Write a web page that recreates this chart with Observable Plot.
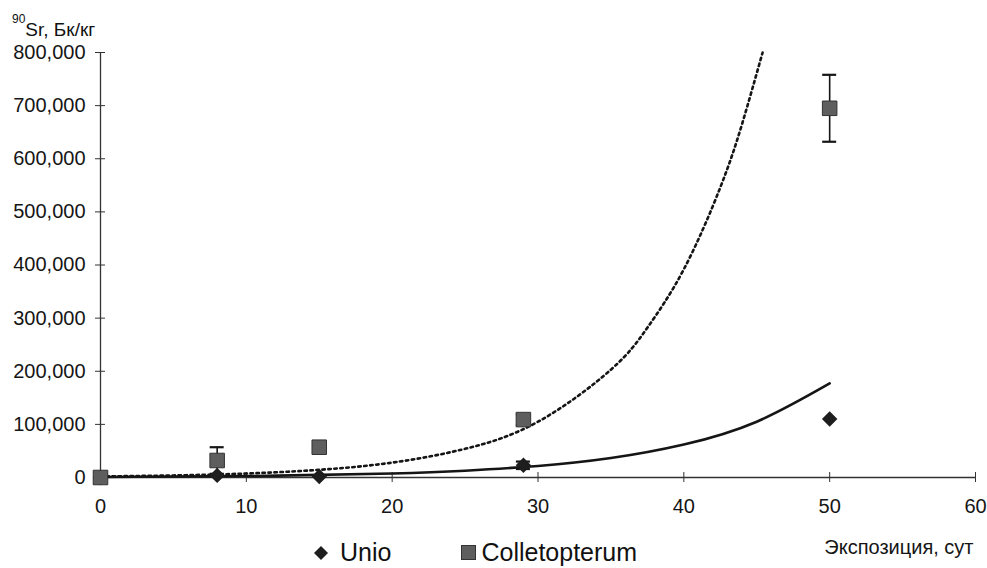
<!DOCTYPE html>
<html>
<head>
<meta charset="utf-8">
<script src="https://cdn.jsdelivr.net/npm/d3@7"></script>
<script src="https://cdn.jsdelivr.net/npm/@observablehq/plot@0.6"></script>
<style>
  html, body { margin: 0; padding: 0; background: #ffffff; }
  body { font-family: "Liberation Sans", Arial, sans-serif; color: #111; }
  #wrap { position: relative; width: 987px; height: 568px; overflow: hidden; }
  #ylabel { position: absolute; left: 12px; top: 20px; font-size: 19px; line-height: 19px; white-space: nowrap; }
  #ylabel .sup { font-size: 12px; position: relative; top: -13px; }
  #legend { position: absolute; left: 314px; top: 540px; display: flex; align-items: center; font-size: 25px; line-height: 25px; white-space: nowrap; }
  #legend svg { display: block; }
</style>
</head>
<body>
<div id="wrap"></div>
<script>
// ---- data ----
const days = [0, 8, 15, 29, 50];
const unioValues = [0, 4000, 2000, 23000, 110000];
const unioErrors = [0, 0, 0, 7000, 0];
const colletValues = [0, 32000, 57000, 109000, 695000];
const colletErrors = [0, 25000, 0, 10000, 63000];

// trend curves (exponential trendlines)
const unioTrendDays = [0, 10, 20, 25, 30, 35, 40, 45, 50];
const unioTrendValues = [930, 2700, 7600, 12800, 21700, 36600, 62000, 105000, 177000];
const colletTrendDays = [0, 5, 10, 15, 20, 25, 30, 35, 37.5, 40, 42.5, 44, 45.4];
const colletTrendValues = [2000, 3900, 7500, 14500, 28000, 54000, 105000, 203000, 282000, 392000, 546000, 666000, 800000];

const xTicks = [0, 10, 20, 30, 40, 50, 60];
const yTicks = [0, 100000, 200000, 300000, 400000, 500000, 600000, 700000, 800000];
const seriesNames = ["Unio", "Colletopterum"];
const yLabelMain = "Sr, Бк/кг";
const yLabelSup = "90";
const xLabel = "Экспозиция, сут";

// ---- tables ----
const unioRows = days.map((d, i) => ({day: d, value: unioValues[i], err: unioErrors[i]}));
const colletRows = days.map((d, i) => ({day: d, value: colletValues[i], err: colletErrors[i]}));
const unioTrend = unioTrendDays.map((d, i) => ({day: d, value: unioTrendValues[i]}));
const colletTrend = colletTrendDays.map((d, i) => ({day: d, value: colletTrendValues[i]}));
const errRows = [...unioRows, ...colletRows].filter(d => d.err > 0);

const ink = "#151515";

const chart = Plot.plot({
  width: 987,
  height: 568,
  marginLeft: 100,
  marginRight: 12,
  marginTop: 52,
  marginBottom: 91,
  x: {domain: [0, 60]},
  y: {domain: [0, 800000]},
  style: {fontFamily: "'Liberation Sans', Arial, sans-serif", color: ink, background: "transparent", overflow: "visible"},
  marks: [
    Plot.ruleX([0], {stroke: "#333", strokeWidth: 1.3}),
    Plot.ruleY([0], {stroke: "#333", strokeWidth: 1.3}),
    Plot.axisY(yTicks, {tickFormat: d3.format(","), tickSize: 10, dx: 5, tickPadding: 10, fontSize: 20, label: null, stroke: "#333"}),
    Plot.axisX(xTicks, {tickSize: 10, dy: -5, tickPadding: 16, fontSize: 20, label: null, stroke: "#333"}),
    Plot.line(colletTrend, {x: "day", y: "value", stroke: ink, strokeWidth: 2.6, strokeDasharray: "2.5,3.5", curve: "natural"}),
    Plot.line(unioTrend, {x: "day", y: "value", stroke: ink, strokeWidth: 2.6, curve: "natural"}),
    Plot.ruleX(errRows, {x: "day", y1: d => d.value - d.err, y2: d => d.value + d.err, stroke: ink, strokeWidth: 1.6}),
    Plot.ruleY(errRows, {x1: "day", x2: "day", y: d => d.value + d.err, insetLeft: -7, insetRight: -7, stroke: ink, strokeWidth: 2.2}),
    Plot.ruleY(errRows, {x1: "day", x2: "day", y: d => d.value - d.err, insetLeft: -7, insetRight: -7, stroke: ink, strokeWidth: 2.2}),
    Plot.dot(unioRows, {x: "day", y: "value", symbol: "diamond2", r: 6, fill: "#1e1e1e", stroke: "#1e1e1e"}),
    Plot.dot(colletRows, {x: "day", y: "value", symbol: "square", r: 8.2, fill: "#5e5e5e", stroke: "#333", strokeWidth: 1}),
    Plot.text([xLabel], {frameAnchor: "bottom-right", textAnchor: "end", lineAnchor: "top", dx: -2, dy: 62, fontSize: 20, fill: ink})
  ]
});

const wrap = document.getElementById("wrap");
wrap.appendChild(chart);

const yl = document.createElement("div");
yl.id = "ylabel";
const sup = document.createElement("span");
sup.className = "sup";
sup.textContent = yLabelSup;
yl.appendChild(sup);
yl.appendChild(document.createTextNode(yLabelMain));
wrap.appendChild(yl);

// legend
const legend = document.createElement("div");
legend.id = "legend";
const swatches = [
  `<svg width="14" height="14" style="margin-right:12px"><polygon points="7,0 14,7 7,14 0,7" fill="#1e1e1e"/></svg>`,
  `<svg width="15" height="15" style="margin-right:5px;margin-left:70px"><rect x="0.5" y="0.5" width="14" height="14" fill="#5e5e5e" stroke="#333"/></svg>`
];
seriesNames.forEach((name, i) => {
  legend.insertAdjacentHTML("beforeend", swatches[i]);
  const s = document.createElement("span");
  s.textContent = name;
  legend.appendChild(s);
});
wrap.appendChild(legend);
</script>
</body>
</html>
